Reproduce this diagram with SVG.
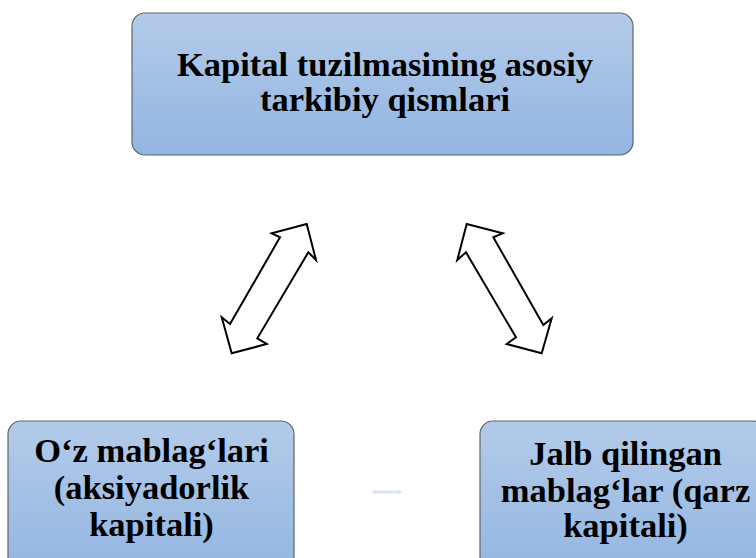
<svg xmlns="http://www.w3.org/2000/svg" width="756" height="558" viewBox="0 0 756 558">
<defs>
<linearGradient id="g" x1="0" y1="0" x2="0" y2="1">
<stop offset="0" stop-color="#b3cbe9"/>
<stop offset="1" stop-color="#92b5e1"/>
</linearGradient>
<style>
.box{fill:url(#g);stroke:#5f646c;stroke-width:1.2}
.t{font-family:"Liberation Serif","Times New Roman",serif;font-weight:bold;font-size:34.5px;fill:#000;text-anchor:middle}
.arr{fill:#fff;stroke:#000;stroke-width:2;stroke-linejoin:miter}
</style>
</defs>
<rect width="756" height="558" fill="#fff"/>
<g id="top">
<rect class="box" x="132" y="13" width="501" height="142" rx="13"/>
<text class="t" x="385" y="76">Kapital tuzilmasining asosiy</text>
<text class="t" x="385" y="110.5">tarkibiy qismlari</text>
</g>
<g id="left">
<rect class="box" x="8" y="421" width="286" height="160" rx="13"/>
<text class="t" x="151.5" y="462">O&#8216;z mablag&#8216;lari</text>
<text class="t" x="151.5" y="498.5">(aksiyadorlik</text>
<text class="t" x="151.5" y="536">kapitali)</text>
</g>
<g id="right">
<rect class="box" x="480" y="421" width="286" height="160" rx="13"/>
<text class="t" x="625.5" y="465">Jalb qilingan</text>
<text class="t" x="625.5" y="501.5">mablag&#8216;lar (qarz</text>
<text class="t" x="625.5" y="537">kapitali)</text>
</g>
<g id="connectors">
<polygon class="arr" points="306.7,224 271.7,233.3 280,237.3 230,324 221.7,317.3 231.7,353.3 266.7,344 257.3,338.3 308.3,252.3 316,260"/>
<polygon class="arr" points="466.7,224 502.7,233.3 493.3,237.3 543.3,325 551.7,318.3 541.7,353.3 506.7,344 516,337.3 466,252.3 457.3,260"/>
<polygon points="372,492 375,489.5 375,490.6 399,490.6 399,489.5 402,492 399,494.5 399,493.4 375,493.4 375,494.5" fill="#d9e3f4"/>
</g>
</svg>
